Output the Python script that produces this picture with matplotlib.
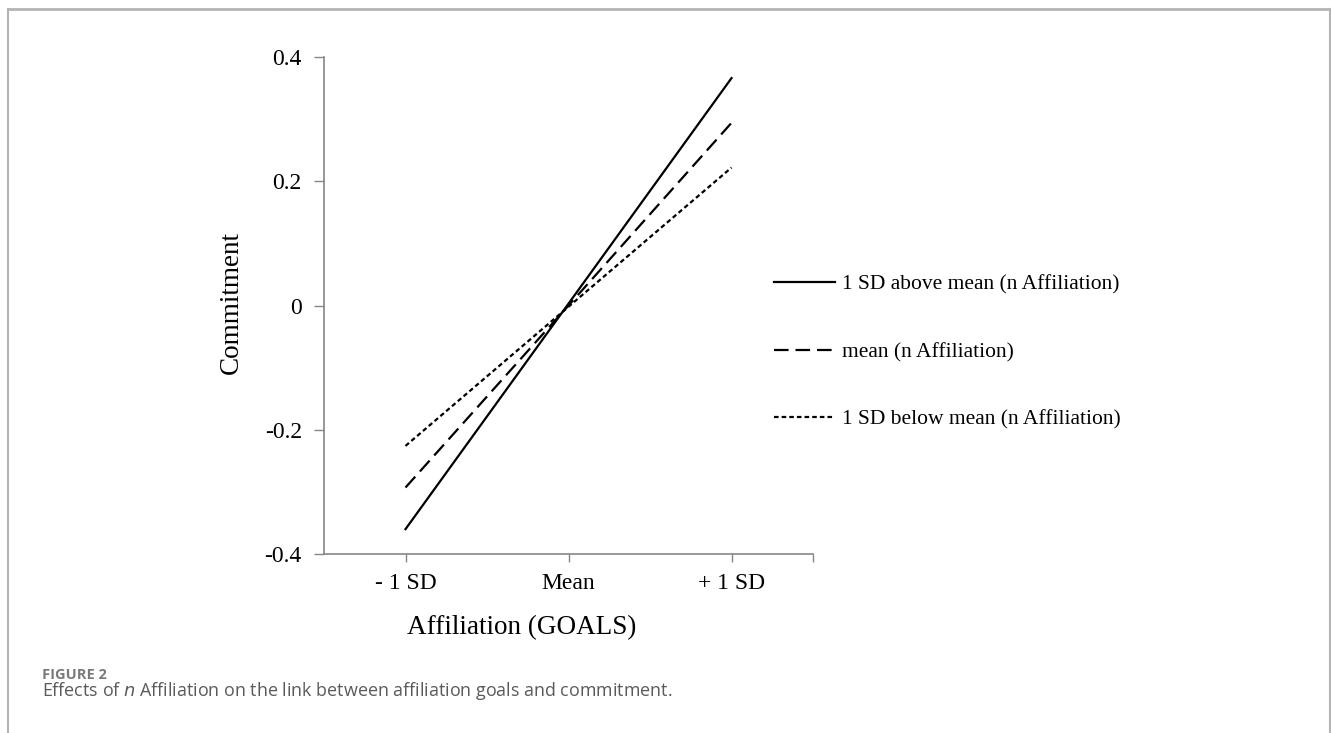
import matplotlib
matplotlib.use("Agg")
import matplotlib.pyplot as plt
from matplotlib.lines import Line2D

# data
categorias = ["- 1 SD", "Mean", "+ 1 SD"]
acima = [-0.360, 0.003, 0.366]
media = [-0.293, 0.000, 0.294]
abaixo = [-0.226, -0.002, 0.222]
nomes = ["1 SD above mean (n Affiliation)",
         "mean (n Affiliation)",
         "1 SD below mean (n Affiliation)"]
yticks = [-0.4, -0.2, 0, 0.2, 0.4]
ylabels = ["-0.4", "-0.2", "0", "0.2", "0.4"]

plt.rcParams['font.family'] = ['Liberation Serif', 'DejaVu Serif']
plt.rcParams['lines.scale_dashes'] = False

W, H = 1331, 733
fig = plt.figure(figsize=(W / 100, H / 100), dpi=100)

# page frame (top and sides, open at bottom)
cinza = "#b4b4b4"
fig.add_artist(Line2D([8 / W, 8 / W], [0, 1 - 9 / H], color=cinza, lw=1.5))
fig.add_artist(Line2D([1 - 1.5 / W, 1 - 1.5 / W], [0, 1 - 9 / H], color=cinza, lw=1.5))
fig.add_artist(Line2D([8 / W, 1 - 1.5 / W], [1 - 9 / H, 1 - 9 / H], color=cinza, lw=2))

ax = fig.add_axes([324 / W, 1 - 554 / H, (813 - 324) / W, (554 - 57) / H])
x = list(range(len(categorias)))
estilos = [dict(ls="-"), dict(dashes=(10.5, 5)), dict(dashes=(3.3, 2.2))]
series = [acima, media, abaixo]
for s, nome, est in zip(series, nomes, estilos):
    ax.plot(x, s, color="black", lw=1.6, label=nome, **est)

ax.set_xlim(-0.5, 2.5)
ax.set_ylim(-0.4, 0.4)
ax.set_xticks(x)
ax.set_xticklabels(categorias, fontsize=17)
ax.set_xticks([2.5], minor=True)
ax.set_yticks(yticks)
ax.set_yticklabels(ylabels, fontsize=17)
ax.tick_params(axis="x", which="both", length=6, width=1, color="#868686", pad=8)
ax.tick_params(axis="y", length=7, width=1, color="#868686", pad=9)
for lado in ["top", "right"]:
    ax.spines[lado].set_visible(False)
for lado in ["left", "bottom"]:
    ax.spines[lado].set_color("#868686")
    ax.spines[lado].set_linewidth(1.2)

fig.text(231 / W, 1 - 302 / H, "Commitment", rotation=90, fontsize=19.5,
         ha="center", va="center")
fig.text(522 / W, 1 - 628 / H, "Affiliation (GOALS)", fontsize=19.5,
         ha="center", va="center")

leg = fig.legend(loc="upper left", bbox_to_anchor=(765.5 / W, 1 - 266 / H),
                 frameon=False, fontsize=15.5, handlelength=2.84,
                 handletextpad=0.33, labelspacing=2.2, borderaxespad=0)

fig.text(42 / W, 1 - 675 / H, "FIGURE 2", fontsize=10.5, color="#7a7a7a",
         family="Open Sans", weight="bold", va="center")
fig.text(42 / W, 1 - 691 / H, "Effects of $\\it{n}$ Affiliation on the link between affiliation goals and commitment.",
         fontsize=12.9, color="#5a5a5a", family="Open Sans", va="center")

fig.savefig("out.png", dpi=100)
